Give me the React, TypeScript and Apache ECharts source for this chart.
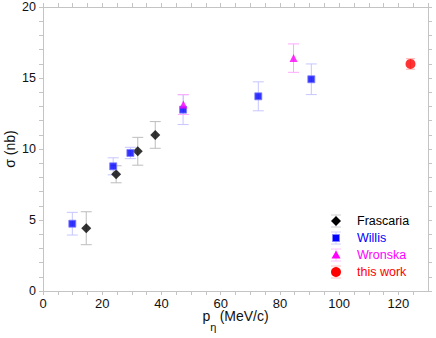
import React, { useEffect, useRef } from "react";
import * as echarts from "echarts";

const frascariaX = [14.6, 24.7, 32.0, 37.9];
const frascariaY = [4.42, 8.22, 9.84, 10.99];
const frascariaErr = [1.16, 0.6, 0.98, 0.94];

const willisX = [9.9, 23.7, 29.5, 47.3, 72.7, 90.6];
const willisY = [4.74, 8.78, 9.72, 12.77, 13.71, 14.91];
const willisErr = [0.8, 0.6, 0.4, 1.05, 1.02, 1.08];

const wronskaX = [47.4, 84.6];
const wronskaY = [13.13, 16.4];
const wronskaErr = [0.7, 1.0];

const thisWorkX = [124.1];
const thisWorkY = [15.99];
const thisWorkErr = [0.37];

const seriesNames = ["Frascaria", "Willis", "Wronska", "this work"];
const xTickLabels = [0, 20, 40, 60, 80, 100, 120];
const yTickLabels = [0, 5, 10, 15, 20];

const FONT = "Liberation Sans, Arial, Helvetica, sans-serif";

function pts(xs: number[], ys: number[]) {
  return xs.map((x, i) => [x, ys[i]]);
}
function errPts(xs: number[], ys: number[], es: number[]) {
  return xs.map((x, i) => [x, ys[i] - es[i], ys[i] + es[i]]);
}

function errSeries(name: string, data: number[][], color: string, cap: number) {
  return {
    type: "custom",
    name: name + "_err",
    silent: true,
    z: 1,
    data,
    encode: { x: 0, y: [1, 2] },
    renderItem: (params: any, api: any) => {
      const x = api.value(0);
      const lo = api.coord([x, api.value(1)]);
      const hi = api.coord([x, api.value(2)]);
      const st = { stroke: color, lineWidth: 1 };
      return {
        type: "group",
        children: [
          { type: "line", shape: { x1: lo[0], y1: lo[1], x2: hi[0], y2: hi[1] }, style: st },
          { type: "line", shape: { x1: lo[0] - cap / 2, y1: lo[1], x2: lo[0] + cap / 2, y2: lo[1] }, style: st },
          { type: "line", shape: { x1: hi[0] - cap / 2, y1: hi[1], x2: hi[0] + cap / 2, y2: hi[1] }, style: st },
        ],
      };
    },
  };
}

const axisGray = "#c4c4c4";
const colors = ["#000000", "#0000ff", "#ff00ff", "#ff0000"];
const errColors = ["#d0d0d0", "#d0d0ff", "#ffc0ff", "#ffc0c0"];

function legendGraphic() {
  const cx = 336;
  const tx = 357;
  const y0 = 221;
  const step = 17;
  const items: any[] = [];
  seriesNames.forEach((name, i) => {
    const cy = y0 + i * step;
    const ec = errColors[i];
    items.push({ type: "line", shape: { x1: cx, y1: cy - 6, x2: cx, y2: cy + 6 }, style: { stroke: ec, lineWidth: 1 }, z: 10 });
    items.push({ type: "line", shape: { x1: cx - 5, y1: cy - 6, x2: cx + 5, y2: cy - 6 }, style: { stroke: ec, lineWidth: 1 }, z: 10 });
    items.push({ type: "line", shape: { x1: cx - 5, y1: cy + 6, x2: cx + 5, y2: cy + 6 }, style: { stroke: ec, lineWidth: 1 }, z: 10 });
    let marker: any;
    if (i === 0) {
      marker = { type: "polygon", shape: { points: [[cx, cy - 5], [cx + 5, cy], [cx, cy + 5], [cx - 5, cy]] }, style: { fill: colors[i] } };
    } else if (i === 1) {
      marker = { type: "rect", shape: { x: cx - 3.5, y: cy - 3.5, width: 7, height: 7 }, style: { fill: colors[i], stroke: "#8080ff", lineWidth: 1 } };
    } else if (i === 2) {
      marker = { type: "polygon", shape: { points: [[cx, cy - 4.5], [cx + 4.5, cy + 3.5], [cx - 4.5, cy + 3.5]] }, style: { fill: colors[i] } };
    } else {
      marker = { type: "circle", shape: { cx, cy, r: 5 }, style: { fill: colors[i] } };
    }
    marker.z = 11;
    items.push(marker);
    items.push({
      type: "text",
      x: tx,
      y: cy,
      z: 11,
      style: { text: name, fill: colors[i], font: `12.5px ${FONT}`, textVerticalAlign: "middle", verticalAlign: "middle" },
    });
  });
  return items;
}

export default function App() {
  const ref = useRef<HTMLDivElement>(null);
  useEffect(() => {
    const chart = echarts.init(ref.current!, null, { renderer: "svg" });
    const xCommon = {
      type: "value",
      min: 0,
      max: 130,
      interval: 5,
      axisLine: { show: true, onZero: false, lineStyle: { color: axisGray } },
      axisTick: { show: true, inside: false, length: 4, lineStyle: { color: axisGray } },
      splitLine: { show: false },
    };
    const yCommon = {
      type: "value",
      min: 0,
      max: 20,
      interval: 1,
      axisLine: { show: true, onZero: false, lineStyle: { color: axisGray } },
      axisTick: { show: true, inside: false, length: 4, lineStyle: { color: axisGray } },
      splitLine: { show: false },
    };
    chart.setOption({
      animation: false,
      grid: { left: 43, right: 8, top: 7, bottom: 47, containLabel: false, outerBoundsMode: "none" },
      xAxis: [
        {
          ...xCommon,
          position: "bottom",
          name: "{p|p}{s|η} {p|(MeV/c)}",
          nameLocation: "middle",
          nameGap: 18,
          nameMoveOverlap: false,
          nameTextStyle: {
            rich: {
              p: { fontFamily: FONT, fontSize: 14, lineHeight: 14, color: "#111", verticalAlign: "top" },
              s: { fontFamily: FONT, fontSize: 11, lineHeight: 11, color: "#111", padding: [12, 0, 0, 0], verticalAlign: "top" },
            },
          },
          axisLabel: {
            fontFamily: FONT,
            fontSize: 13,
            lineHeight: 12,
            color: "#111",
            margin: 6,
            showMaxLabel: false,
            formatter: (v: number) => (xTickLabels.includes(v) ? String(v) : ""),
          },
        },
        { ...xCommon, position: "top", axisLabel: { show: false } },
      ],
      yAxis: [
        {
          ...yCommon,
          position: "left",
          name: "σ (nb)",
          nameLocation: "middle",
          nameGap: 26,
          nameMoveOverlap: false,
          nameTextStyle: { fontFamily: FONT, fontSize: 14, color: "#111" },
          axisLabel: {
            fontFamily: FONT,
            fontSize: 12.5,
            color: "#111",
            margin: 7,
            formatter: (v: number) => (yTickLabels.includes(v) ? String(v) : ""),
          },
        },
        { ...yCommon, position: "right", axisLabel: { show: false } },
      ],
      graphic: legendGraphic(),
      series: [
        errSeries("Frascaria", errPts(frascariaX, frascariaY, frascariaErr), "#bdbdbd", 11),
        errSeries("Willis", errPts(willisX, willisY, willisErr), "#c6c6ff", 11),
        errSeries("Wronska", errPts(wronskaX, wronskaY, wronskaErr), "#ffaaff", 11),
        errSeries("this work", errPts(thisWorkX, thisWorkY, thisWorkErr), "#ffb0b0", 9),
        {
          type: "scatter",
          name: "Frascaria",
          symbol: "diamond",
          symbolSize: 10,
          itemStyle: { color: "#000" },
          data: pts(frascariaX, frascariaY),
          z: 3,
        },
        {
          type: "scatter",
          name: "Willis",
          symbol: "rect",
          symbolSize: 7,
          itemStyle: { color: "#0000ff", borderColor: "#8080ff", borderWidth: 1 },
          data: pts(willisX, willisY),
          z: 3,
        },
        {
          type: "scatter",
          name: "Wronska",
          symbol: "triangle",
          symbolSize: 8,
          itemStyle: { color: "#ff00ff" },
          data: pts(wronskaX, wronskaY),
          z: 4,
        },
        {
          type: "scatter",
          name: "this work",
          symbol: "circle",
          symbolSize: 10,
          itemStyle: { color: "#ff0000" },
          data: pts(thisWorkX, thisWorkY),
          z: 3,
        },
      ],
    });
    return () => chart.dispose();
  }, []);
  return <div ref={ref} style={{ width: 436, height: 338, position: "absolute", left: 0, top: 0 }} />;
}
